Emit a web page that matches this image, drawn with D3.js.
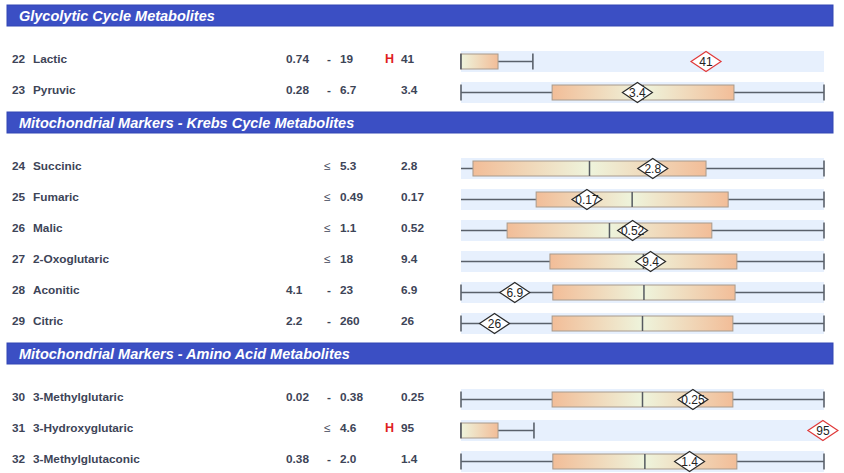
<!DOCTYPE html>
<html>
<head>
<meta charset="utf-8">
<script src="https://cdn.jsdelivr.net/npm/d3@7"></script>
<style>
  html, body { margin: 0; padding: 0; background: #ffffff; }
  svg { display: block; font-family: "Liberation Sans", Arial, sans-serif; }
</style>
</head>
<body>
<svg id="chart" width="844" height="473"></svg>
<script>
// ---------- data ----------
const sections = [
  "Glycolytic Cycle Metabolites",
  "Mitochondrial Markers - Krebs Cycle Metabolites",
  "Mitochondrial Markers - Amino Acid Metabolites"
];
const sectionOf = [0, 0, 1, 1, 1, 1, 1, 1, 2, 2, 2];
const ids = ["22", "23", "24", "25", "26", "27", "28", "29", "30", "31", "32"];
const names = ["Lactic", "Pyruvic", "Succinic", "Fumaric", "Malic", "2-Oxoglutaric",
  "Aconitic", "Citric", "3-Methylglutaric", "3-Hydroxyglutaric", "3-Methylglutaconic"];
const lows = ["0.74", "0.28", "", "", "", "", "4.1", "2.2", "0.02", "", "0.38"];
const highs = ["19", "6.7", "5.3", "0.49", "1.1", "18", "23", "260", "0.38", "4.6", "2.0"];
const results = ["41", "3.4", "2.8", "0.17", "0.52", "9.4", "6.9", "26", "0.25", "95", "1.4"];
const flags = ["H", "", "", "", "", "", "", "", "", "H", ""];
// box (population) limits, in % of the drawn reference span
const boxLo = [0, 25.1, 3.3, 20.7, 12.7, 24.5, 25.3, 25.1, 25.1, 0, 25.3];
const boxHi = [10.2, 75.2, 67.5, 73.6, 69.1, 76.0, 75.5, 74.9, 74.9, 10.2, 76.0];
const whiskerHi = [19.8, 100, 100, 100, 100, 100, 100, 100, 100, 20.1, 100];
// marker position (%) for results outside the reference span
const outPos = [67.5, null, null, null, null, null, null, null, null, 99.7, null];

// ---------- layout ----------
const svg = d3.select("#chart");
const x = d3.scaleLinear().domain([0, 100]).range([461, 824]);
const textColor = "#3d4457";

const defs = svg.append("defs");
function grad(id, stops) {
  const g = defs.append("linearGradient").attr("id", id)
    .attr("x1", "0%").attr("x2", "100%").attr("y1", "0%").attr("y2", "0%");
  stops.forEach(s => g.append("stop").attr("offset", s[0]).attr("stop-color", s[1]));
}
grad("gFull", [["0%", "#f2bd98"], ["50%", "#eef4dc"], ["100%", "#f2bd98"]]);
grad("gHalf", [["0%", "#eef4dc"], ["100%", "#f2bd98"]]);

// compute row/header vertical positions
let yCursor = 5;
const headerTops = [];
const rowCenters = [];
let prevSec = -1;
ids.forEach((id, i) => {
  if (sectionOf[i] !== prevSec) {
    if (prevSec >= 0) yCursor = rowCenters[i - 1] + 22;
    headerTops.push(yCursor);
    yCursor = yCursor + 54;
    prevSec = sectionOf[i];
  } else {
    yCursor = rowCenters[i - 1] + 31;
  }
  rowCenters.push(yCursor);
});

// headers
const hdr = svg.selectAll("g.hdr").data(sections).join("g").attr("class", "hdr");
hdr.append("rect")
  .attr("x", 7).attr("width", 826).attr("height", 21)
  .attr("y", (d, i) => headerTops[i])
  .attr("fill", "#3b4fc4").attr("stroke", "#3246b4").attr("stroke-width", 1);
hdr.append("text")
  .attr("x", 19).attr("y", (d, i) => headerTops[i] + 15.5)
  .attr("fill", "#ffffff").attr("font-weight", "bold").attr("font-style", "italic")
  .attr("font-size", "14.5px").text(d => d);

// rows
const rows = svg.selectAll("g.row").data(ids).join("g").attr("class", "row");
rows.each(function (id, i) {
  const g = d3.select(this);
  const tc = rowCenters[i];
  const by = tc + 2.5;           // band centre
  const base = tc + 4.2;         // text baseline
  const fs = "11.8px";

  g.append("text").attr("x", 12).attr("y", base).attr("font-size", fs)
    .attr("font-weight", "bold").attr("fill", textColor).text(id);
  g.append("text").attr("x", 33).attr("y", base).attr("font-size", fs)
    .attr("font-weight", "bold").attr("fill", textColor).text(names[i]);
  if (lows[i] !== "") {
    g.append("text").attr("x", 286).attr("y", base).attr("font-size", fs)
      .attr("font-weight", "bold").attr("fill", textColor).text(lows[i]);
    g.append("text").attr("x", 329).attr("y", base).attr("font-size", fs)
      .attr("font-weight", "bold").attr("fill", textColor).attr("text-anchor", "middle").text("-");
  } else {
    g.append("text").attr("x", 324).attr("y", base).attr("font-size", fs)
      .attr("fill", textColor).text("\u2264");
  }
  g.append("text").attr("x", 340).attr("y", base).attr("font-size", fs)
    .attr("font-weight", "bold").attr("fill", textColor).text(highs[i]);
  if (flags[i] !== "") {
    g.append("text").attr("x", 385).attr("y", base).attr("font-size", "12.5px")
      .attr("font-weight", "bold").attr("fill", "#e01f1f").text(flags[i]);
  }
  g.append("text").attr("x", 401).attr("y", base).attr("font-size", fs)
    .attr("font-weight", "bold").attr("fill", textColor).text(results[i]);

  // background band
  g.append("rect").attr("x", x(0)).attr("width", x(100) - x(0))
    .attr("y", by - 10.5).attr("height", 21).attr("fill", "#e7f0fd");

  const wc = "#5a616b";
  const half = flags[i] === "H";
  // whisker
  g.append("line").attr("x1", x(0)).attr("x2", x(whiskerHi[i]))
    .attr("y1", by).attr("y2", by).attr("stroke", wc).attr("stroke-width", 1.6);
  if (lows[i] !== "" || half) {
    g.append("line").attr("x1", x(0)).attr("x2", x(0))
      .attr("y1", by - 8).attr("y2", by + 8).attr("stroke", wc).attr("stroke-width", 1.6);
  }
  g.append("line").attr("x1", x(whiskerHi[i])).attr("x2", x(whiskerHi[i]))
    .attr("y1", by - 8).attr("y2", by + 8).attr("stroke", wc).attr("stroke-width", 1.6);
  // box
  g.append("rect").attr("x", x(boxLo[i])).attr("width", x(boxHi[i]) - x(boxLo[i]))
    .attr("y", by - 7.5).attr("height", 15)
    .attr("fill", half ? "url(#gHalf)" : "url(#gFull)")
    .attr("stroke", "#a89a8c").attr("stroke-width", 1);
  // median
  const med = half ? boxLo[i] : (boxLo[i] + boxHi[i]) / 2;
  g.append("line").attr("x1", x(med)).attr("x2", x(med))
    .attr("y1", by - 7.5).attr("y2", by + 7.5).attr("stroke", "#555a60").attr("stroke-width", 1.5);

  // marker
  let pos;
  if (outPos[i] !== null) pos = outPos[i];
  else {
    const lo = lows[i] === "" ? 0 : +lows[i];
    pos = (+results[i] - lo) / (+highs[i] - lo) * 100;
  }
  const mx = x(pos);
  g.append("path")
    .attr("d", `M${mx - 15},${by} L${mx},${by - 10} L${mx + 15},${by} L${mx},${by + 10} Z`)
    .attr("fill", "#ffffff").attr("stroke", half ? "#e03a3a" : "#2a2a2a").attr("stroke-width", 1.2);
  g.append("text").attr("x", mx).attr("y", by + 4.2).attr("text-anchor", "middle")
    .attr("font-size", "12px").attr("fill", "#222").text(results[i]);
});
</script>
</body>
</html>
